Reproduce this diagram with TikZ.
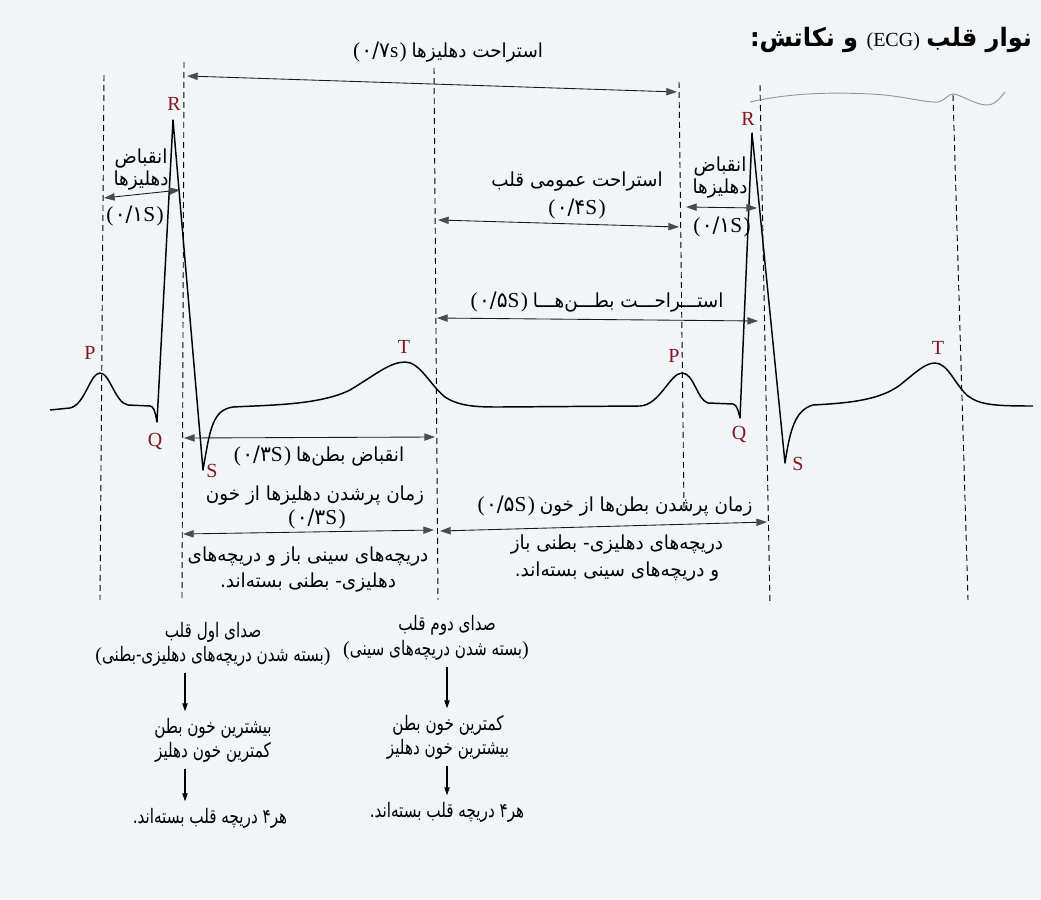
\documentclass[tikz,border=0pt]{standalone}
\usepackage{fontspec}
\setmainfont{Liberation Serif}
\newfontfamily\fa[Script=Arabic,FakeStretch=0.95]{DejaVu Sans}
\newfontfamily\fab[Script=Arabic,FakeStretch=0.76]{DejaVu Sans}
\TeXXeTstate=1
\usetikzlibrary{arrows.meta}
\definecolor{bg}{RGB}{242,245,248}
\definecolor{lbl}{RGB}{128,22,30}
\definecolor{tipc}{RGB}{75,75,75}
\definecolor{pen}{RGB}{150,150,150}
\newcommand\fatxt[1]{{\fa\beginR #1\endR}}
\newcommand\fbtxt[1]{{\fab\beginR #1\endR}}
\newcommand\durtxt[2]{{\fontsize{16}{18}\selectfont(\kern1pt{\fa #1}#2\kern1pt)}}
\begin{document}
\begin{tikzpicture}[x=0.75pt,y=-0.75pt,
  every node/.style={inner sep=0pt,outer sep=0pt,text=black},
  guide/.style={line width=0.7pt,dash pattern=on 4.5pt off 3pt,black},
  wave/.style={line width=1.1pt,line join=round},
  peaklbl/.style={text=lbl,font=\fontsize{15}{15}\selectfont},
  txt/.style={font=\fontsize{14.5}{16.5}\selectfont,align=center},
  btxt/.style={font=\fontsize{15}{18}\selectfont,align=center},
  dimarrow/.style={line width=0.65pt,black!90,arrows={Triangle[length=8pt,width=5.5pt,color=tipc]-Triangle[length=8pt,width=5.5pt,color=tipc]}},
  downarrow/.style={line width=0.8pt,shorten <=5pt,shorten >=5pt,arrows={-Triangle[length=6pt,width=4pt]}}
]
\fill[bg] (0,0) rectangle (1041,899);
\useasboundingbox (0,0) rectangle (1041,899);

% title
\node[font=\fontsize{19}{23}\selectfont] (title) at (891,40)
  {\fatxt{\bfseries و نکاتش:} {\fontsize{15}{18}\selectfont(ECG)} \fatxt{\bfseries نوار قلب}};

% vertical guides
\coordinate (v1t) at (104,75);  \coordinate (v1b) at (100,600);
\coordinate (v2t) at (184,62);  \coordinate (v2b) at (182,600);
\coordinate (v3t) at (434,68);  \coordinate (v3b) at (438,600);
\coordinate (v4t) at (679,82);  \coordinate (v4b) at (684,510);
\coordinate (v5t) at (760,85);  \coordinate (v5b) at (770,605);
\coordinate (v6t) at (953,95);  \coordinate (v6b) at (968,600);
\foreach \v in {v1,v2,v3,v4,v5,v6} \draw[guide] (\v t) -- (\v b);

% grey pencil line top right
\draw[pen,line width=0.7pt] (750,102) .. controls (790,93) and (830,92) .. (870,94)
  .. controls (900,95) and (925,103) .. (938,102) .. controls (946,100) and (948,94) .. (953,94)
  .. controls (960,94) and (975,105) .. (987,105) .. controls (995,105) and (1000,98) .. (1005,92);

% ECG waveform
\draw[wave] (50,410) -- (70,408) .. controls (85,405) and (90,373) .. (100,373)
  .. controls (110,373) and (115,403) .. (128,405) -- (150,406)
  .. controls (153,406) and (155,410) .. (157,422) -- (173,120) -- (203,470)
  .. controls (210,430) and (212,410) .. (233,407)
  .. controls (270,405) and (320,405) .. (350,390)
  .. controls (375,375) and (390,362) .. (405,362)
  .. controls (420,362) and (430,385) .. (445,397)
  .. controls (460,407) and (480,407) .. (500,407) -- (640,406)
  .. controls (660,405) and (670,373) .. (682,373)
  .. controls (694,373) and (697,400) .. (708,403) -- (733,404)
  .. controls (737,405) and (738,410) .. (740,418) -- (752,133) -- (785,463)
  .. controls (790,430) and (795,410) .. (813,405)
  .. controls (850,403) and (880,400) .. (900,385)
  .. controls (915,373) and (925,363) .. (935,363)
  .. controls (948,363) and (955,385) .. (968,396)
  .. controls (980,405) and (995,406) .. (1033,406);

% wave labels
\node[peaklbl] (P1) at (90,353) {P};
\node[peaklbl] (Q1) at (155,441) {Q};
\node[peaklbl] (R1) at (174,104) {R};
\node[peaklbl] (S1) at (212,471) {S};
\node[peaklbl] (T1) at (404,347) {T};
\node[peaklbl] (P2) at (674,356) {P};
\node[peaklbl] (Q2) at (739,434) {Q};
\node[peaklbl] (R2) at (748,119) {R};
\node[peaklbl] (S2) at (798,464) {S};
\node[peaklbl] (T2) at (938,348) {T};

% dimension arrows
\coordinate (a1l) at (187,76);  \coordinate (a1r) at (677,92);
\coordinate (a2l) at (104,198); \coordinate (a2r) at (180,190);
\coordinate (a3l) at (438,220); \coordinate (a3r) at (679,227);
\coordinate (a4l) at (686,207); \coordinate (a4r) at (757,208);
\coordinate (a5l) at (437,318); \coordinate (a5r) at (758,321);
\coordinate (a6l) at (184,438); \coordinate (a6r) at (435,437);
\coordinate (a7l) at (183,534); \coordinate (a7r) at (434,530);
\coordinate (a8l) at (440,531); \coordinate (a8r) at (767,522);
\foreach \a in {a1,a2,a3,a4,a5,a6,a7,a8} \draw[dimarrow] (\a l) -- (\a r);

% texts of the intervals
\node[txt] (t1) at (448,52) {\durtxt{۰/۷}{s}\ \fatxt{استراحت دهلیزها}};
\node[txt] (t2) at (141,170) {\fatxt{انقباض}\\\fatxt{دهلیزها}};
\node[txt] (t2b) at (135,216) {\durtxt{۰/۱}{S}};
\node[txt] (t3) at (577,182) {\fatxt{استراحت عمومی قلب}};
\node[txt] (t3b) at (577,209) {\durtxt{۰/۴}{S}};
\node[txt] (t4) at (720,178) {\fatxt{انقباض}\\\fatxt{دهلیزها}};
\node[txt] (t4b) at (722,227) {\durtxt{۰/۱}{S}};
\node[txt] (t5) at (597,302) {\durtxt{۰/۵}{S}\ \fatxt{استـــراحـــت بطـــن^^^^200cهـــا}};
\node[txt] (t6) at (319,456) {\durtxt{۰/۳}{S}\ \fatxt{انقباض بطن^^^^200cها}};
\node[txt] (t7) at (315,496) {\fatxt{زمان پرشدن دهلیزها از خون}};
\node[txt] (t7b) at (317,519) {\durtxt{۰/۳}{S}};
\node[txt] (t7c) at (308,570) {\fatxt{دریچه^^^^200cهای سینی باز و دریچه^^^^200cهای}\\[3pt]\fatxt{دهلیزی- بطنی بسته^^^^200cاند.}};
\node[txt] (t8) at (615,506) {\durtxt{۰/۵}{S}\ \fatxt{زمان پرشدن بطن^^^^200cها از خون}};
\node[txt] (t8c) at (617,558) {\fatxt{دریچه^^^^200cهای دهلیزی- بطنی باز}\\[3.5pt]\fatxt{و دریچه^^^^200cهای سینی بسته^^^^200cاند.}};

% heart sounds, left chain
\coordinate (cx1) at (185,0);
\node[btxt] (c1a) at (213,632) {\fbtxt{صدای اول قلب}};
\node[btxt] (c1b) at (213,656) {(\fbtxt{بسته شدن دریچه^^^^200cهای دهلیزی-بطنی})};
\node[btxt] (c1c) at (213,740) {\fbtxt{بیشترین خون بطن}\\\fbtxt{کمترین خون دهلیز}};
\node[btxt] (c1d) at (210,818) {\fbtxt{هر۴ دریچه قلب بسته^^^^200cاند.}};
\draw[downarrow] (c1b.south -| cx1) -- (c1c.north -| cx1);
\draw[downarrow] (c1c.south -| cx1) -- (c1d.north -| cx1);

% heart sounds, right chain
\coordinate (cx2) at (447,0);
\node[btxt] (c2a) at (447,625) {\fbtxt{صدای دوم قلب}};
\node[btxt] (c2b) at (436,650) {(\fbtxt{بسته شدن دریچه^^^^200cهای سینی})};
\node[btxt] (c2c) at (448,737) {\fbtxt{کمترین خون بطن}\\\fbtxt{بیشترین خون دهلیز}};
\node[btxt] (c2d) at (447,812) {\fbtxt{هر۴ دریچه قلب بسته^^^^200cاند.}};
\draw[downarrow] (c2b.south -| cx2) -- (c2c.north -| cx2);
\draw[downarrow] (c2c.south -| cx2) -- (c2d.north -| cx2);
\end{tikzpicture}
\end{document}
